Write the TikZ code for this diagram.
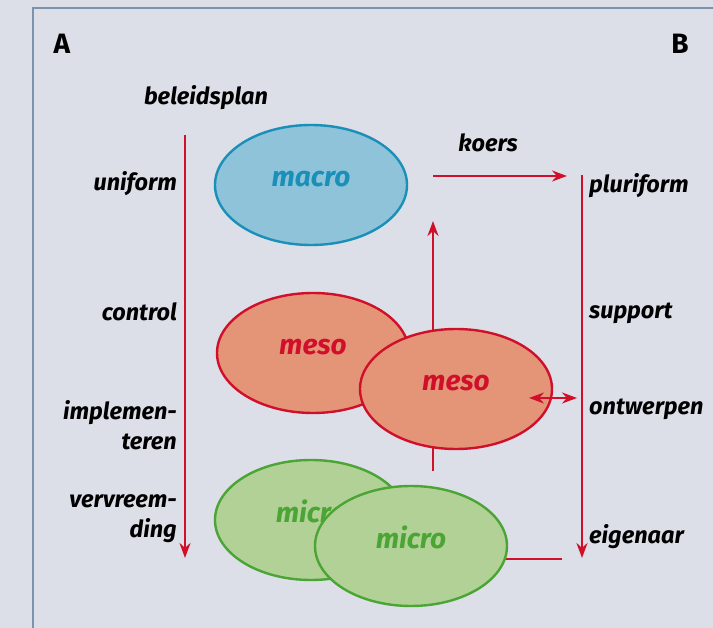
\documentclass[tikz,border=0pt]{standalone}
\usepackage{fontspec}
\setmainfont{Fira Sans}
\usetikzlibrary{shapes.geometric,arrows.meta}
\definecolor{bgcol}{HTML}{DCDFE7}
\definecolor{framecol}{HTML}{7B93AD}
\definecolor{arrowred}{HTML}{D0102B}
\definecolor{macrofill}{HTML}{8EC3DA}
\definecolor{macroline}{HTML}{1A8FB8}
\definecolor{mesofill}{HTML}{E59577}
\definecolor{microfill}{HTML}{B2D196}
\definecolor{microline}{HTML}{4AA534}
\tikzset{
  lbl/.style={font=\fontsize{23.5}{30}\selectfont\bfseries\itshape, inner sep=0pt},
  blob/.style={ellipse, draw, line width=2.4pt, minimum width=192pt, minimum height=120pt,
    inner sep=0pt, text height=14pt, text depth=10pt,
    font=\fontsize{28}{30}\selectfont\bfseries\itshape},
  redline/.style={draw=arrowred, line width=2.4pt},
  redarrow/.style={redline, -{Stealth[length=15pt,width=11pt]}}
}
\begin{document}
\begin{tikzpicture}[x=1pt,y=-1pt]
        \fill[bgcol] (0,0) rectangle (713,628);
        \useasboundingbox (0,0) rectangle (713,628);
        \draw[framecol, line width=2.5pt] (713,8) -- (33,8) -- (33,628);
        \node[font=\fontsize{28}{30}\selectfont\bfseries] (a) at (62,44) {A};
        \node[font=\fontsize{28}{30}\selectfont\bfseries] (b) at (680,44) {B};
        \node[lbl] (plan) at (206,98) {beleidsplan};
        \node[lbl] (koers) at (488,143) {koers};
        % left column
        \node[lbl, anchor=east] (l0) at (177,184) {uniform};
        \node[lbl, anchor=east] (l1) at (177,312) {control};
        \node[lbl, anchor=east, align=right] (l2) at (177,425) {implemen-\\teren};
        \node[lbl, anchor=east, align=right] (l3) at (177,519) {vervreem-\\ding};
        % right column
        \node[lbl, anchor=west] (r0) at (589,186) {pluriform};
        \node[lbl, anchor=west] (r1) at (589,313) {support};
        \node[lbl, anchor=west] (r2) at (589,409) {ontwerpen};
        \node[lbl, anchor=west] (r3) at (589,537) {eigenaar};
        \coordinate (ltop) at (185,135);
        \coordinate (lbot) at (185,558);
        \coordinate (rtop) at (582,175);
        \coordinate (rbot) at (582,558);
        \coordinate (kstart) at (433,176);
        \coordinate (kend) at (567,176);
        \coordinate (upbot) at (433,471);
        \coordinate (uptop) at (433,221);
        \coordinate (linkend) at (562,559);
        \coordinate (dstart) at (529,398);
        \coordinate (dend) at (577,398);
        \draw[redarrow] (ltop) -- (lbot);
        \draw[redarrow] (rtop) -- (rbot);
        \draw[redarrow] (kstart) -- (kend);
        \draw[redarrow] (upbot) -- (uptop);
        % ellipses
        \node[blob, fill=macrofill, draw=macroline, text=macroline] (macro) at (311,185) {macro};
        \node[blob, fill=mesofill, draw=arrowred, text=arrowred] (meso1) at (313,353) {meso};
        \node[blob, fill=mesofill, draw=arrowred, text=arrowred] (meso2) at (456,389) {meso};
        \node[blob, fill=microfill, draw=microline, text=microline] (micro1) at (311,520) {micro};
        \draw[redline] (micro1.center) ++(100,39) -- (linkend);
        \node[blob, fill=microfill, draw=microline, text=microline] (micro2) at (411,546) {micro};
        \draw[redline, {Stealth[length=15pt,width=11pt]}-{Stealth[length=15pt,width=11pt]}] (dstart) -- (dend);
\end{tikzpicture}
\end{document}
